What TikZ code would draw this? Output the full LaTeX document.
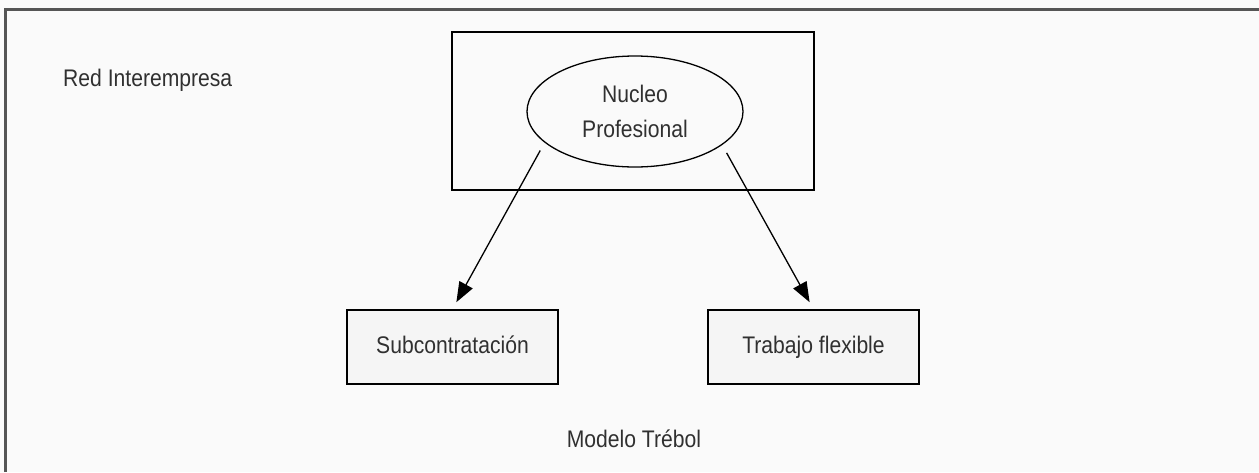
\documentclass[tikz,border=0pt]{standalone}
\usepackage{fontspec}
\setmainfont[FakeStretch=0.88]{Liberation Sans}
\usetikzlibrary{shapes.geometric,arrows.meta}
\definecolor{pagebg}{HTML}{FAFAFA}
\definecolor{framegray}{HTML}{555555}
\definecolor{boxfill}{HTML}{F5F5F5}
\definecolor{inkgray}{HTML}{303030}
\tikzset{
  txt/.style={font=\fontsize{24}{35}\selectfont, text=inkgray, inner sep=0pt},
  outerbox/.style={draw=black, line width=1.8pt, fill=pagebg, minimum width=362pt, minimum height=158pt, inner sep=0pt},
  core/.style={ellipse, draw=black, line width=1.3pt, fill=pagebg, minimum width=216pt, minimum height=111pt, inner sep=0pt, align=center, txt},
  unitbox/.style={draw=black, line width=1.6pt, fill=boxfill, minimum width=211pt, minimum height=74pt, inner sep=0pt, txt, text height=17pt, text depth=5pt},
  link/.style={draw=black, line width=1.3pt, -{Triangle[length=20pt,width=15pt]}, shorten <=9pt, shorten >=8pt}
}
\begin{document}
\begin{tikzpicture}[x=1pt,y=-1pt]
  % page and frame
  \fill[pagebg] (0,0) rectangle (1259,472);
  \useasboundingbox (0,0) rectangle (1259,472);
  \draw[framegray, line width=2.5pt] (5.5,472) |- (1259,9.5);

  % labels
  \node[txt, anchor=base west] (red) at (63,86) {Red Interempresa};
  \node[txt, anchor=base] (modelo) at (634,447) {Modelo Trébol};

  % core organisation
  \node[outerbox] (empresa) at (633,111) {};
  \node[core] (nuc) at (635,111.5) {Nucleo\\Profesional};

  % peripheral units
  \node[unitbox] (sub) at (452.5,347) {Subcontratación};
  \node[unitbox] (trab) at (813.5,347) {Trabajo flexible};

  % connectors
  \draw[link] (nuc.199) -- (sub.north);
  \draw[link] (nuc.339) -- (trab.north);
\end{tikzpicture}
\end{document}
